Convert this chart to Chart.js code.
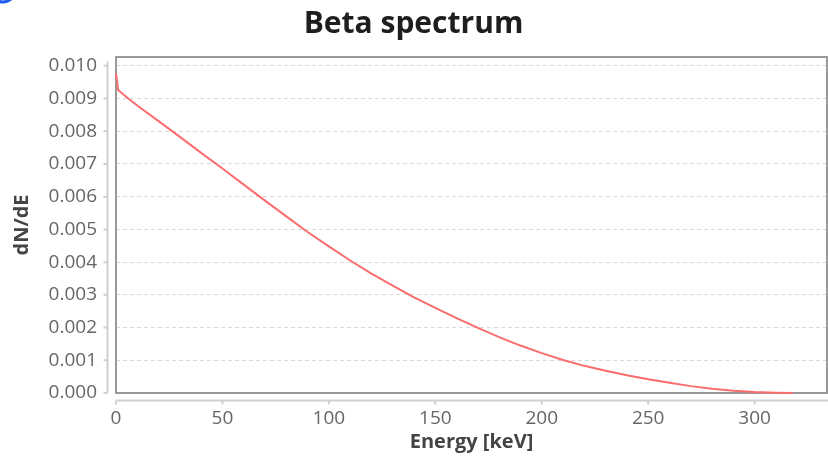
<!DOCTYPE html>
<html lang="en">
<head>
    <meta charset="UTF-8">
    <title>Beta spectrum</title>
    <script src="https://cdn.jsdelivr.net/npm/chart.js"></script>
    <style>
        html, body { margin: 0; padding: 0; background: #fff; }
        #wrap { width: 828px; height: 459px; }
    </style>
</head>
<body>
<div id="wrap">
    <canvas id="betaChart" width="828" height="459"></canvas>
</div>

<script>
    // energy grid [keV] and spectrum values dN/dE
    const energies = [0, 1, 5, 10, 20, 30, 40, 50, 60, 70, 80, 90, 100, 110, 120, 130, 140, 150,
        160, 170, 180, 190, 200, 210, 220, 230, 240, 250, 260, 270, 280, 290, 300, 310, 318];
    const dNdE = [0.00978, 0.00926, 0.00904, 0.00879, 0.00831, 0.00783, 0.00734, 0.00686, 0.00637,
        0.00588, 0.00540, 0.00492, 0.00448, 0.00405, 0.00365, 0.00328, 0.00292, 0.00260,
        0.00229, 0.00199, 0.00171, 0.00145, 0.00122, 0.00101, 0.00083, 0.00068, 0.00054,
        0.00042, 0.00031, 0.00021, 0.00013, 0.00007, 0.00003, 0.00001, 0.0];

    // axis ranges / ticks
    const xMax = 334;
    const yMax = 0.01027;
    const xTicks = [0, 50, 100, 150, 200, 250, 300];
    const yTicks = [0, 0.001, 0.002, 0.003, 0.004, 0.005, 0.006, 0.007, 0.008, 0.009, 0.010];

    const fontFamily = '"Open Sans", "Noto Sans", sans-serif';

    // frame around the plot (under the curve) + detached axis lines with tick marks
    const framePlugin = {
        id: 'frame',
        beforeDatasetsDraw(chart) {
            const ctx = chart.ctx;
            const a = chart.chartArea;
            ctx.save();
            ctx.strokeStyle = '#999';
            ctx.lineWidth = 2;
            ctx.strokeRect(a.left, a.top, a.right - a.left, a.bottom - a.top);
            ctx.restore();
        },
        afterDraw(chart) {
            const ctx = chart.ctx;
            const a = chart.chartArea;
            const xs = chart.scales.x;
            const ys = chart.scales.y;
            ctx.save();

            ctx.strokeStyle = '#cfcfcf';
            ctx.lineWidth = 2;
            // left spine
            const sx = a.left - 8.5;
            ctx.beginPath();
            ctx.moveTo(sx, ys.getPixelForValue(yTicks[yTicks.length - 1]) - 4);
            ctx.lineTo(sx, ys.getPixelForValue(0));
            yTicks.forEach(v => {
                const py = ys.getPixelForValue(v);
                ctx.moveTo(sx - 4, py);
                ctx.lineTo(sx, py);
            });
            ctx.stroke();

            // bottom spine
            const sy = a.bottom + 7.5;
            ctx.beginPath();
            ctx.moveTo(xs.getPixelForValue(0), sy);
            ctx.lineTo(chart.width, sy);
            xTicks.forEach(v => {
                const px = xs.getPixelForValue(v);
                ctx.moveTo(px, sy);
                ctx.lineTo(px, sy + 4);
            });
            ctx.stroke();

            // little blue marker in the corner
            ctx.strokeStyle = '#1f5cf0';
            ctx.lineWidth = 3;
            ctx.beginPath();
            ctx.arc(3, -10, 12, 0, Math.PI);
            ctx.stroke();

            ctx.restore();
        }
    };

    const ctx = document.getElementById('betaChart').getContext('2d');
    new Chart(ctx, {
        type: 'line',
        data: {
            datasets: [{
                label: 'dN/dE',
                data: energies.map((e, i) => ({x: e, y: dNdE[i]})),
                borderColor: '#fb6d6d',
                borderWidth: 2,
                pointRadius: 0,
                fill: false,
                tension: 0,
                clip: 3
            }]
        },
        options: {
            responsive: false,
            animation: false,
            layout: {padding: {left: 0, right: 1, top: 0, bottom: 0}},
            plugins: {
                legend: {display: false},
                tooltip: {enabled: false},
                title: {
                    display: true,
                    text: 'Beta spectrum',
                    color: '#1e1e1e',
                    font: {family: fontFamily, size: 30, weight: 'bold'},
                    padding: {top: 6, bottom: 15}
                }
            },
            scales: {
                x: {
                    type: 'linear',
                    min: 0,
                    max: xMax,
                    afterFit(scale) { scale.height = 66; },
                    border: {display: false},
                    grid: {display: false, drawTicks: false},
                    ticks: {
                        stepSize: 50,
                        includeBounds: false,
                        padding: 14,
                        color: '#666',
                        font: {family: fontFamily, size: 19},
                        maxRotation: 0
                    },
                    title: {
                        display: true,
                        text: 'Energy [keV]',
                        color: '#444',
                        font: {family: fontFamily, size: 20, weight: 'bold'},
                        padding: {top: 0, bottom: 5}
                    }
                },
                y: {
                    min: 0,
                    max: yMax,
                    afterFit(scale) { scale.width = 116; },
                    // dash on the horizontal grid lines
                    border: {display: false, dash: [4, 3]},
                    grid: {
                        color: '#d9d9d9',
                        lineWidth: 1,
                        drawTicks: false
                    },
                    ticks: {
                        stepSize: 0.001,
                        includeBounds: false,
                        padding: 19,
                        color: '#666',
                        font: {family: fontFamily, size: 19},
                        callback: v => v.toFixed(3)
                    },
                    title: {
                        display: true,
                        text: 'dN/dE',
                        color: '#444',
                        font: {family: fontFamily, size: 20, weight: 'bold'},
                        padding: {top: 10, bottom: 0}
                    }
                }
            }
        },
        plugins: [framePlugin]
    });
</script>
</body>
</html>
